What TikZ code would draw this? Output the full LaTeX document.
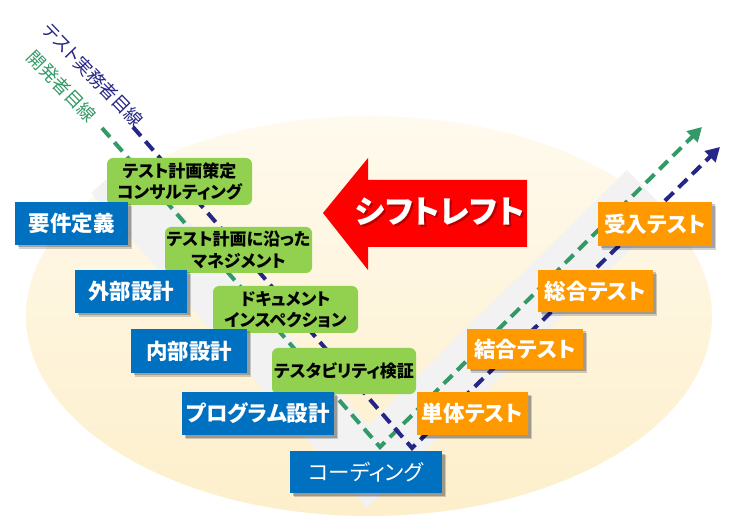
\documentclass[tikz,border=0pt]{standalone}
\usepackage{fontspec}
\setmainfont{Noto Sans CJK JP}[RawFeature=+palt]
\usetikzlibrary{shadows,arrows.meta}
\definecolor{vblue}{HTML}{0070C0}
\definecolor{vorange}{HTML}{FF9900}
\definecolor{vgreen}{HTML}{92D050}
\definecolor{navyline}{HTML}{262686}
\definecolor{greenline}{HTML}{339966}
\definecolor{bandgray}{HTML}{F2F2F2}
\definecolor{elltop}{HTML}{FFFAEE}
\definecolor{ellbot}{HTML}{FDEFCB}
\definecolor{shiftred}{HTML}{FF0000}
\definecolor{darkred}{HTML}{8A0000}
\tikzset{
  boxshadow/.style={drop shadow={shadow xshift=4pt,shadow yshift=-4pt,opacity=.18,fill=black},
                    drop shadow={shadow xshift=2.5pt,shadow yshift=-2.5pt,opacity=.22,fill=black}},
  phase/.style={boxshadow,fill=vblue,text=white,inner sep=0pt,font=\bfseries\fontsize{21.5}{24}\selectfont},
  testbox/.style={boxshadow,fill=vorange,text=white,inner sep=0pt,font=\bfseries\fontsize{21.5}{24}\selectfont},
  activity/.style={fill=vgreen,text=black,rounded corners=6pt,inner sep=0pt,align=center,font=\bfseries\fontsize{17}{21.5}\selectfont},
  viewline/.style={line width=4pt,dash pattern=on 12pt off 7pt,-{Triangle[length=14pt,width=15pt]}},
  viewlabel/.style={rotate=-46,font=\fontsize{18}{20}\selectfont}
}
\begin{document}
\begin{tikzpicture}[x=1pt,y=-1pt]
\useasboundingbox (0,0) rectangle (736,518);
% background ellipse
\shade[top color=elltop,bottom color=ellbot] (369,316) ellipse [x radius=343pt,y radius=200pt];
% V band
\fill[bandgray] (91,193) -- (132,157) -- (368,425) -- (627,170) -- (668,212) -- (367,508) -- cycle;
% viewpoint lines
\coordinate (nS) at (133,127);
\coordinate (nB) at (412,448);
\coordinate (nE) at (720,147);
\coordinate (gS) at (102,128);
\coordinate (gB) at (380,447);
\coordinate (gE) at (702,127);
\draw[viewline,greenline] (gS) -- (gB) -- (gE);
\draw[viewline,navyline] (nS) -- (nB) -- (nE);
\node[viewlabel,text=navyline] (lblN) at (93,75) {テスト実務者目線};
\node[viewlabel,text=greenline] (lblG) at (62,86) {開発者目線};
% shift left arrow
\fill[shiftred] (323,213) -- (368,158) -- (368,180) -- (527,180) -- (527,247) -- (368,247) -- (368,270) -- cycle;
\node[text=darkred,opacity=.6,font=\bfseries\fontsize{32}{34}\selectfont] (shiftS) at (442,214) {シフトレフト};
\node[text=white,font=\bfseries\fontsize{32}{34}\selectfont] (shift) at (440,212) {シフトレフト};
% activities
\node[activity,minimum width=145pt,minimum height=47pt] (g1) at (179.5,181.5) {テスト計画策定\\コンサルティング};
\node[activity,minimum width=147pt,minimum height=46pt] (g2) at (238.5,250) {テスト計画に沿った\\マネジメント};
\node[activity,minimum width=145pt,minimum height=47pt] (g3) at (285.5,309.5) {ドキュメント\\インスペクション};
\node[activity,minimum width=144pt,minimum height=46pt] (g4) at (344,371) {テスタビリティ検証};
% phases
\node[phase,minimum width=113pt,minimum height=43pt] (req) at (71.5,223.5) {要件定義};
\node[phase,minimum width=112pt,minimum height=43pt] (ext) at (131,291.5) {外部設計};
\node[phase,minimum width=116pt,minimum height=44pt] (int) at (189,351) {内部設計};
\node[phase,minimum width=152pt,minimum height=43pt] (prog) at (258,413.5) {プログラム設計};
\node[phase,minimum width=152pt,minimum height=42pt,font=\fontsize{21.5}{24}\selectfont] (code) at (366,472) {コーディング};
% tests
\node[testbox,minimum width=111pt,minimum height=43pt] (unit) at (472.5,413.5) {単体テスト};
\node[testbox,minimum width=116pt,minimum height=40pt] (integ) at (525,349) {結合テスト};
\node[testbox,minimum width=115pt,minimum height=42pt] (sys) at (595.5,291) {総合テスト};
\node[testbox,minimum width=114pt,minimum height=44pt] (acc) at (655,224) {受入テスト};
\end{tikzpicture}
\end{document}
